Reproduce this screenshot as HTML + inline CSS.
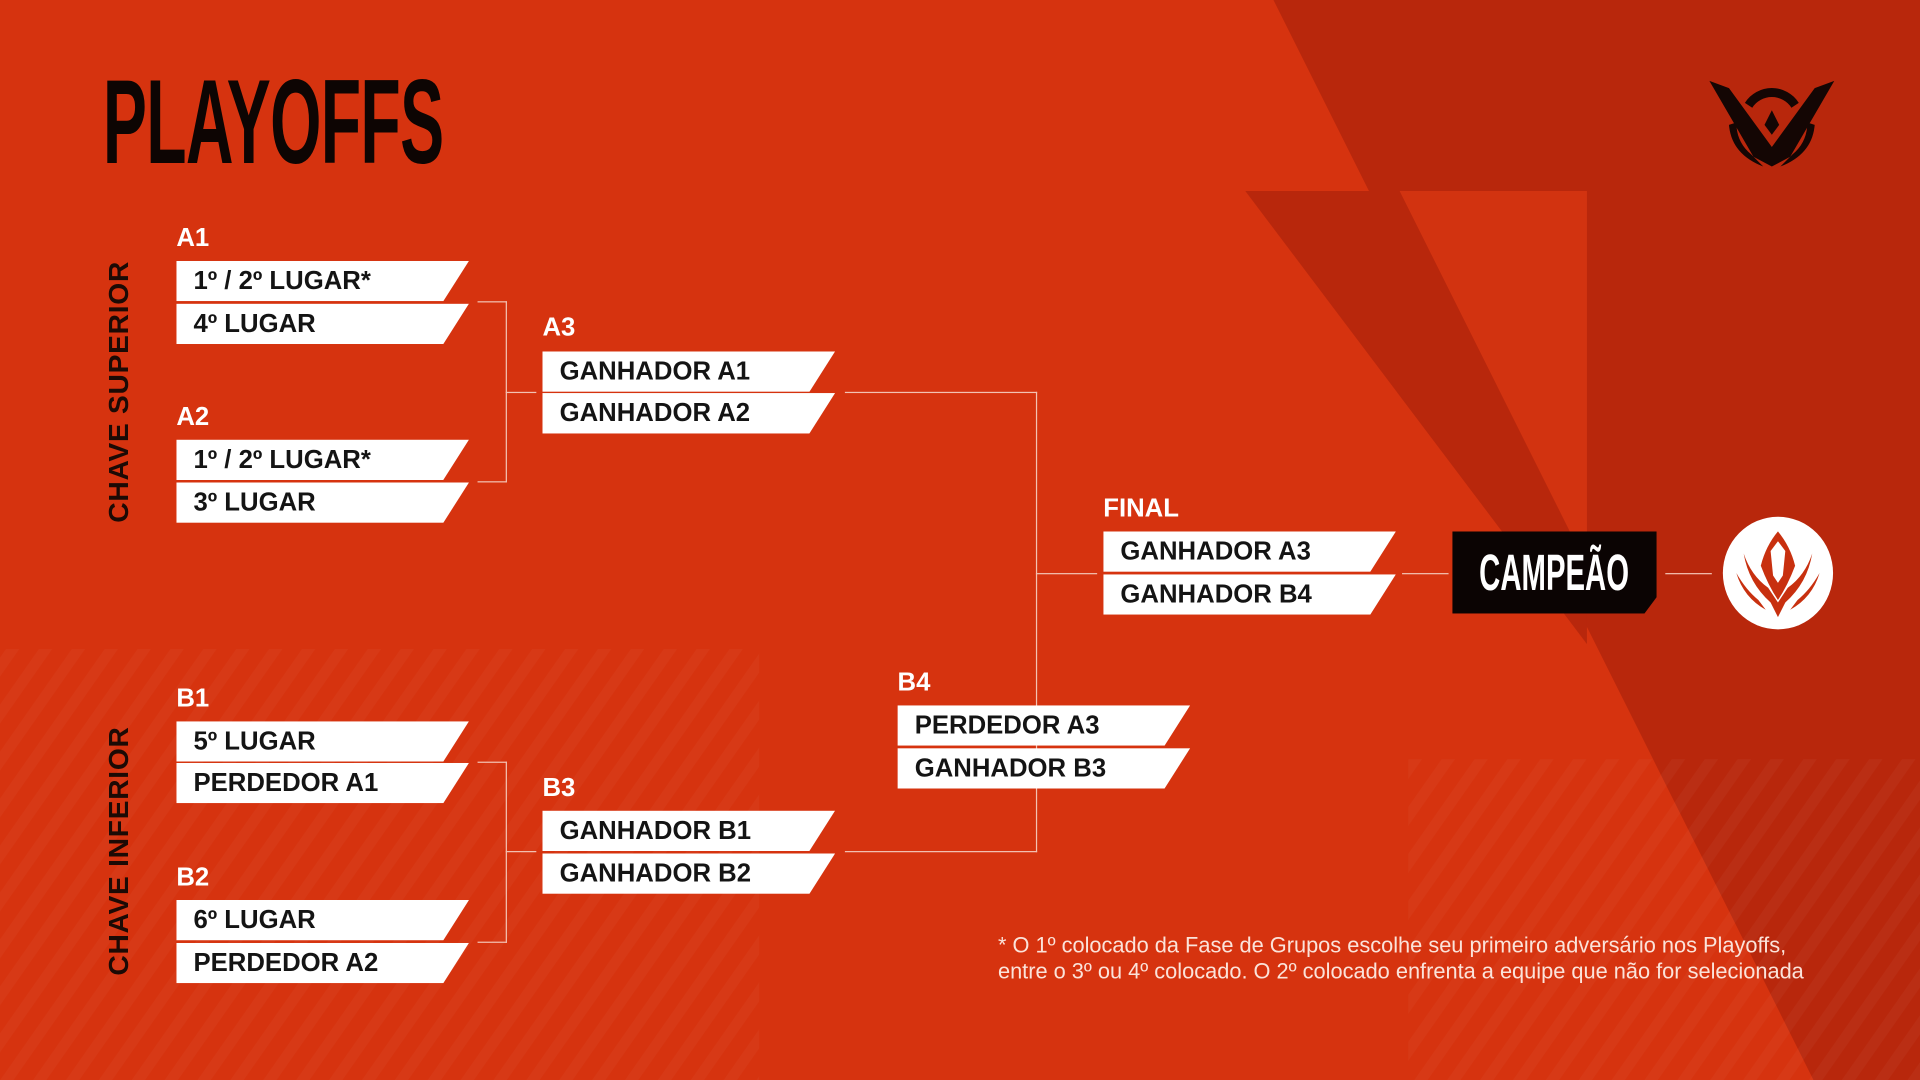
<!DOCTYPE html>
<html><head><meta charset="utf-8"><style>
html,body{margin:0;padding:0;width:1920px;height:1080px;overflow:hidden;background:#d6330f}
#s{position:absolute;left:0;top:0;width:1568px;height:882px;transform:scale(1.22449);transform-origin:0 0;font-family:"Liberation Sans",sans-serif}
.bx{position:absolute;width:239px;height:33px;background:#fff;clip-path:polygon(0 0,100% 0,calc(100% - 21px) 100%,0 100%);font-weight:bold;font-size:21px;color:#141414;line-height:34px;padding-left:14px;box-sizing:border-box;white-space:nowrap}
.lb{position:absolute;font-weight:bold;font-size:21px;color:#fff;line-height:22px}
.ln{position:absolute;background:#f3c2b3}
.vt{position:absolute;font-weight:bold;font-size:23px;color:#1c0a05;white-space:nowrap;transform:translate(-50%,-50%) rotate(-90deg);letter-spacing:0.6px}
</style></head><body><div id="s">
<svg width="1568" height="882" style="position:absolute;left:0;top:0">
<defs>
<pattern id="st" width="22" height="22" patternUnits="userSpaceOnUse" patternTransform="rotate(35)"><rect width="9" height="22" fill="#ffffff" opacity="0.03"/></pattern>
</defs>
<polygon points="1040,0 1568,0 1568,882 1481,882" fill="#b8270c"/>
<polygon points="1017,156 1143,156 1296,462 1296,526" fill="#b8270c"/>
<polygon points="1143,156 1296,156 1296,462" fill="#d23310"/>
<polygon points="0,530 620,530 620,882 0,882" fill="url(#st)"/>
<polygon points="1150,620 1568,620 1568,882 1150,882" fill="url(#st)"/>
<g fill="#140604">
<polygon points="1396,66 1412,72 1447,120 1482,72 1498,66 1462,128 1447,136 1432,128"/>
<path d="M1425,84 A26,26 0 0 1 1469,84 L1463,88 A19,19 0 0 0 1431,88 Z"/>
<polygon points="1447,90 1453,102 1447,110 1441,102"/>
<path d="M1412,102 Q1414,126 1440,136 L1430,126 Q1418,116 1418,100 Z"/>
<path d="M1482,102 Q1480,126 1454,136 L1464,126 Q1476,116 1476,100 Z"/>
</g>
<ellipse cx="1452" cy="468" rx="45" ry="46" fill="#fff"/>
<g fill="#c8300f">
<path d="M1452,434 Q1462,446 1466,462 Q1460,478 1452,490 Q1444,478 1438,462 Q1442,446 1452,434 Z"/>
<path d="M1424,452 Q1428,476 1446,492 L1452,504 L1458,492 Q1476,476 1480,452 Q1474,470 1460,480 L1452,492 L1444,480 Q1430,470 1424,452 Z"/>
<path d="M1418,468 Q1424,488 1442,498 L1436,490 Q1426,482 1418,468 Z"/>
<path d="M1486,468 Q1480,488 1462,498 L1468,490 Q1478,482 1486,468 Z"/>
</g>
<path d="M1446,450 L1452,442 L1458,450 L1456,470 L1452,476 L1448,470 Z" fill="#fff"/>
</svg>

<div style="position:absolute;left:84px;top:50px;font-weight:bold;font-size:98px;line-height:98px;color:#0d0503;transform:scaleX(0.55);transform-origin:0 0;letter-spacing:-1px;white-space:nowrap">PLAYOFFS</div>

<div class="vt" style="left:97px;top:320px">CHAVE SUPERIOR</div>
<div class="vt" style="left:97px;top:695px">CHAVE INFERIOR</div>

<div class="ln" style="left:390px;top:246px;width:24px;height:1px"></div>
<div class="ln" style="left:413px;top:246px;width:1px;height:148px"></div>
<div class="ln" style="left:390px;top:393px;width:24px;height:1px"></div>
<div class="ln" style="left:413px;top:320px;width:25px;height:1px"></div>

<div class="ln" style="left:390px;top:622px;width:24px;height:1px"></div>
<div class="ln" style="left:413px;top:622px;width:1px;height:148px"></div>
<div class="ln" style="left:390px;top:769px;width:24px;height:1px"></div>
<div class="ln" style="left:413px;top:695px;width:25px;height:1px"></div>

<div class="ln" style="left:690px;top:320px;width:157px;height:1px"></div>
<div class="ln" style="left:846px;top:320px;width:1px;height:376px"></div>
<div class="ln" style="left:690px;top:695px;width:157px;height:1px"></div>
<div class="ln" style="left:846px;top:468px;width:50px;height:1px"></div>
<div class="ln" style="left:1145px;top:468px;width:38px;height:1px"></div>
<div class="ln" style="left:1360px;top:468px;width:38px;height:1px"></div>

<div class="lb" style="left:144px;top:184px">A1</div>
<div class="bx" style="left:144px;top:213px">1º / 2º LUGAR*</div>
<div class="bx" style="left:144px;top:248px">4º LUGAR</div>
<div class="lb" style="left:144px;top:330px">A2</div>
<div class="bx" style="left:144px;top:359px">1º / 2º LUGAR*</div>
<div class="bx" style="left:144px;top:394px">3º LUGAR</div>

<div class="lb" style="left:443px;top:257px">A3</div>
<div class="bx" style="left:443px;top:287px">GANHADOR A1</div>
<div class="bx" style="left:443px;top:321px">GANHADOR A2</div>

<div class="lb" style="left:144px;top:560px">B1</div>
<div class="bx" style="left:144px;top:589px">5º LUGAR</div>
<div class="bx" style="left:144px;top:623px">PERDEDOR A1</div>
<div class="lb" style="left:144px;top:706px">B2</div>
<div class="bx" style="left:144px;top:735px">6º LUGAR</div>
<div class="bx" style="left:144px;top:770px">PERDEDOR A2</div>

<div class="lb" style="left:443px;top:633px">B3</div>
<div class="bx" style="left:443px;top:662px">GANHADOR B1</div>
<div class="bx" style="left:443px;top:697px">GANHADOR B2</div>

<div class="lb" style="left:733px;top:547px">B4</div>
<div class="bx" style="left:733px;top:576px">PERDEDOR A3</div>
<div class="bx" style="left:733px;top:611px">GANHADOR B3</div>

<div class="lb" style="left:901px;top:405px">FINAL</div>
<div class="bx" style="left:901px;top:434px">GANHADOR A3</div>
<div class="bx" style="left:901px;top:469px">GANHADOR B4</div>

<div style="position:absolute;left:1186px;top:434px;width:167px;height:67px;background:#0b0403;clip-path:polygon(0 0,100% 0,100% 80%,calc(100% - 10px) 100%,0 100%)"></div>
<div style="position:absolute;left:1208px;top:444px;font-weight:bold;font-size:42px;line-height:48px;color:#fff;transform:scaleX(0.57);transform-origin:0 0;white-space:nowrap">CAMPEÃO</div>

<div style="position:absolute;left:815px;top:762px;font-size:17.8px;line-height:21px;color:#fbe3da;white-space:nowrap">* O 1º colocado da Fase de Grupos escolhe seu primeiro adversário nos Playoffs,<br>entre o 3º ou 4º colocado. O 2º colocado enfrenta a equipe que não for selecionada</div>
</div></body></html>
